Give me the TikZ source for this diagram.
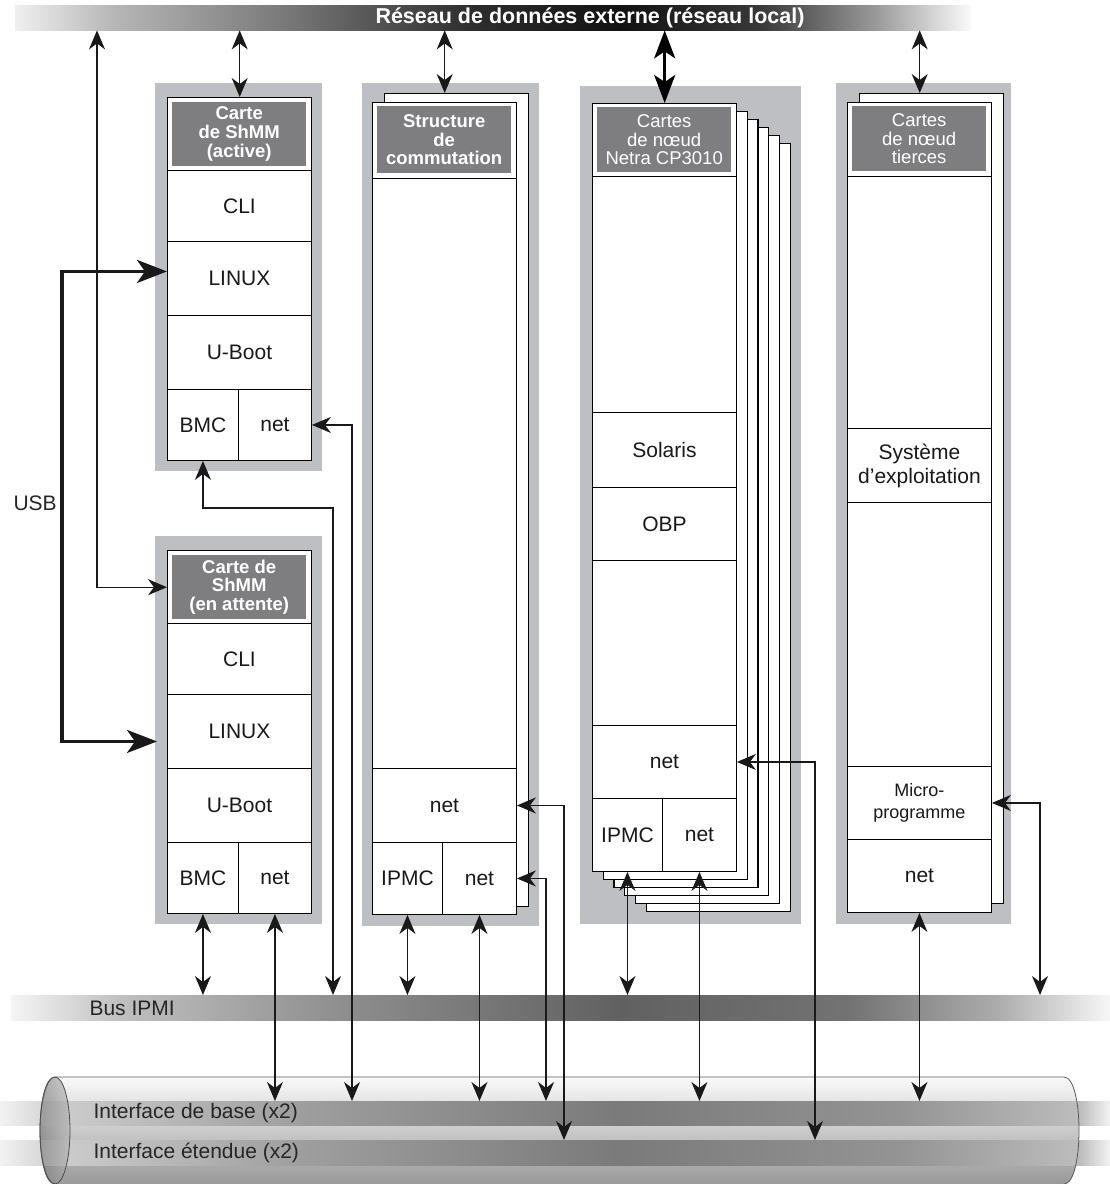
\documentclass[tikz,border=0pt]{standalone}
\usepackage{fontspec}
\setmainfont{Liberation Sans}
\usetikzlibrary{arrows.meta,positioning}

\definecolor{pannello}{HTML}{BEBFC3}
\definecolor{testata}{HTML}{7E7E81}
\newcommand{\corpo}{\fontsize{21}{24}\selectfont}
\newcommand{\titolo}{\fontsize{18.5}{18.8}\selectfont}

\tikzset{
  scheda/.style={draw=black, line width=1.4pt, fill=white, inner sep=0pt,
    anchor=north west, minimum width=144pt},
  testa/.style={fill=testata, text=white, inner sep=0pt, align=center,
    font=\titolo, anchor=north west, minimum width=134pt},
  cella/.style={draw=black, line width=0.9pt, inner sep=0pt, align=center,
    font=\corpo, text=black!90, anchor=north west, minimum width=144pt},
  banda/.style={inner sep=0pt, anchor=north west},
  conn/.style={line width=1.2pt, black!90, <->},
  usb/.style={line width=3.5pt, black!90,
    {Stealth[length=30pt,width=23pt,inset=8pt]}-{Stealth[length=30pt,width=23pt,inset=8pt]}},
  spesso/.style={line width=3pt, black,
    {Stealth[length=28pt,width=21pt,inset=7pt]}-{Stealth[length=28pt,width=21pt,inset=7pt]}}
}

\begin{document}
\begin{tikzpicture}[x=1pt, y=-1pt, >={Stealth[length=19pt,width=16pt,inset=6pt]}]
\useasboundingbox[fill=white] (0,0) rectangle (1110,1184);

% Rete esterna
\foreach \xa/\xb/\ca/\cb in {15/110/black!6/black!28, 110/300/black!28/black!55,
    300/470/black!55/black!82, 470/620/black!82/black!93, 620/760/black!93/black!78,
    760/880/black!78/black!38, 880/970/black!38/black!2}
  \shade[left color=\ca, right color=\cb] (\xa,5) rectangle ({\xb+1},30);
\node[banda, minimum width=955pt, minimum height=25pt] (lan) at (15,5) {};
\node[text=white, font=\fontsize{21.5}{24}\selectfont\bfseries] (lanT) at (590,17.5) {Réseau de données externe (réseau local)};

% Bus IPMI
\foreach \xa/\xb/\ca/\cb in {11/120/black!4/black!25, 120/350/black!25/black!45,
    350/620/black!45/black!62, 620/850/black!62/black!55, 850/1000/black!55/black!32,
    1000/1110/black!32/black!3}
  \shade[left color=\ca, right color=\cb] (\xa,995) rectangle ({\xb+1},1020);
\node[banda, minimum width=1099pt, minimum height=25pt] (ipmi) at (11,995) {};
\node[anchor=west, font=\corpo, text=black!85] (ipmiT) at (86,1008) {Bus IPMI};

% Cilindro (interfacce)
\shade[top color=black!2, middle color=black!18, bottom color=black!40]
  (55,1077) -- (1064,1077) .. controls (1084,1077) and (1084,1184) .. (1064,1184)
  -- (55,1184) .. controls (35,1184) and (35,1077) .. (55,1077) -- cycle;
\foreach \xa/\xb/\ca/\cb in {0/60/black!5/black!20, 60/300/black!20/black!38,
    300/620/black!38/black!52, 620/900/black!52/black!42, 900/1080/black!42/black!26,
    1080/1110/black!26/black!4}{
  \shade[left color=\ca, right color=\cb] (\xa,1101) rectangle ({\xb+1},1125);
  \shade[left color=\ca, right color=\cb] (\xa,1140) rectangle ({\xb+1},1165);
}
\draw[black!65, line width=0.8pt]
  (55,1184) .. controls (35,1184) and (35,1077) .. (55,1077) -- (1064,1077)
  .. controls (1084,1077) and (1084,1184) .. (1064,1184);
\shade[left color=black!55, right color=black!30, opacity=0.6] (55,1130.5) ellipse [x radius=15pt, y radius=53.5pt];
\draw[black!70, line width=0.8pt] (55,1130.5) ellipse [x radius=15pt, y radius=53.5pt];
\node[banda, minimum width=1110pt, minimum height=24pt] (base) at (0,1101) {};
\node[banda, minimum width=1110pt, minimum height=25pt] (estesa) at (0,1140) {};
\node[anchor=west, font=\corpo, text=black!85] (baseT) at (90,1113) {Interface de base (x2)};
\node[anchor=west, font=\corpo, text=black!85] (estesaT) at (90,1152.5) {Interface étendue (x2)};

% Schede ShMM (attiva e in attesa)
\foreach \dy/\n/\t in {0/A/{Carte\\de ShMM\\(active)}, 453/B/{Carte de\\ShMM\\(en attente)}}{
  \fill[pannello] (155,83+\dy) rectangle (322,471+\dy);
  \node[scheda, minimum height=363pt] (scheda\n) at (167,97+\dy) {};
  \node[testa, minimum height=64pt, font=\titolo\bfseries] (test\n) at (172,102+\dy) {\t};
  \node[cella, minimum height=71pt] (cli\n) at (167,170+\dy) {CLI};
  \node[cella, minimum height=74pt] (linux\n) at (167,241+\dy) {LINUX};
  \node[cella, minimum height=74pt] (uboot\n) at (167,315+\dy) {U-Boot};
  \node[cella, minimum height=71pt, minimum width=71pt] (bmc\n) at (167,389+\dy) {BMC};
  \node[cella, minimum height=71pt, minimum width=73pt] (net\n) at (238,389+\dy) {net};
}

% Struttura di commutazione
\fill[pannello] (362,83) rectangle (539,926);
\node[scheda, minimum height=813pt] (retroC) at (384,93) {};
\node[scheda, minimum height=812pt] (schedaC) at (372,102) {};
\node[testa, minimum height=67pt, font=\titolo\bfseries] (testC) at (377,106) {Structure\\de\\commutation};
\node[cella, minimum height=590pt] (vuotoC) at (372,178) {};
\node[cella, minimum height=74pt] (netC1) at (372,768) {net};
\node[cella, minimum height=72pt, minimum width=70pt] (ipmcC) at (372,842) {IPMC};
\node[cella, minimum height=72pt, minimum width=74pt] (netC2) at (442,842) {net};

% Schede Netra CP3010
\fill[pannello] (580,86) rectangle (801,924);
\foreach \k in {5,4,3,2,1}
  \node[scheda, line width=1.2pt, minimum height=768pt] (retroD\k) at ({592+10.7*\k},{103+8*\k}) {};
\node[scheda, minimum height=768pt] (schedaD) at (592,103) {};
\node[testa, minimum height=65pt] (testD) at (597,107) {Cartes\\de nœud\\Netra CP3010};
\node[cella, minimum height=236pt] (vuotoD1) at (592,176) {};
\node[cella, minimum height=75pt] (solD) at (592,412) {Solaris};
\node[cella, minimum height=73pt] (obpD) at (592,487) {OBP};
\node[cella, minimum height=165pt] (vuotoD2) at (592,560) {};
\node[cella, minimum height=73pt] (netD1) at (592,725) {net};
\node[cella, minimum height=73pt, minimum width=70pt] (ipmcD) at (592,798) {IPMC};
\node[cella, minimum height=73pt, minimum width=74pt] (netD2) at (662,798) {net};

% Schede di terzi
\fill[pannello] (836,83) rectangle (1011,924);
\node[scheda, minimum height=810pt] (retroE) at (859,93) {};
\node[scheda, minimum height=810pt] (schedaE) at (847,102) {};
\node[testa, minimum height=65pt] (testE) at (852,106) {Cartes\\de nœud\\tierces};
\node[cella, minimum height=252pt] (vuotoE1) at (847,176) {};
\node[cella, minimum height=74pt] (osE) at (847,428) {Système\\d’exploitation};
\node[cella, minimum height=264pt] (vuotoE2) at (847,502) {};
\node[cella, minimum height=73pt, font=\fontsize{18}{22}\selectfont] (microE) at (847,766) {Micro-\\programme};
\node[cella, minimum height=73pt] (netE) at (847,839) {net};

% USB
\node[anchor=west, font=\corpo, text=black!85] (usb) at (10,503) {USB};
\coordinate (usbX) at (62,0);
\draw[usb] ([yshift=7pt]linuxA.west) -| (usbX |- linuxB.west) |- ([xshift=-10pt,yshift=-10pt]linuxB.west);

% Collegamenti alla rete esterna
\coordinate (gomito) at (97,0);
\draw[conn] (lan.south -| gomito) |- (testB.west -| schedaB.west);
\draw[conn] (lan.south -| schedaA.north) -- (schedaA.north);
\draw[conn] (lan.south -| schedaC.north) -- (schedaC.north |- retroC.north);
\draw[spesso] (lan.south -| schedaD.north) -- (schedaD.north);
\draw[conn] (lan.south -| schedaE.north) -- (schedaE.north |- retroE.north);

% Collegamenti ai bus
\coordinate (gomitoA) at (333,508);
\coordinate (gomitoN) at (352,0);
\coordinate (gomitoC1) at (564,0);
\coordinate (gomitoC2) at (546,0);
\coordinate (gomitoD) at (815,0);
\coordinate (gomitoE) at (1040,0);
\draw[conn] (bmcA.south) |- (gomitoA) -- (gomitoA |- ipmi.north);
\draw[conn] (netA.east) -| (gomitoN |- base.north);
\draw[conn] (bmcB.south) -- (bmcB.south |- ipmi.north);
\draw[conn] (netB.south) -- (netB.south |- base.north);
\draw[conn] (netC1.east) -| (gomitoC1 |- estesa.north);
\draw[conn] (netC2.east) -| (gomitoC2 |- base.north);
\draw[conn] (ipmcC.south) -- (ipmcC.south |- ipmi.north);
\draw[conn] (netC2.south) -- (netC2.south |- base.north);
\draw[conn] (netD1.east) -| (gomitoD |- estesa.north);
\draw[conn] (ipmcD.south) -- (ipmcD.south |- ipmi.north);
\draw[conn] (netD2.south) -- (netD2.south |- base.north);
\draw[conn] (microE.east) -| (gomitoE |- ipmi.north);
\draw[conn] (netE.south) -- (netE.south |- base.north);
\end{tikzpicture}
\end{document}
